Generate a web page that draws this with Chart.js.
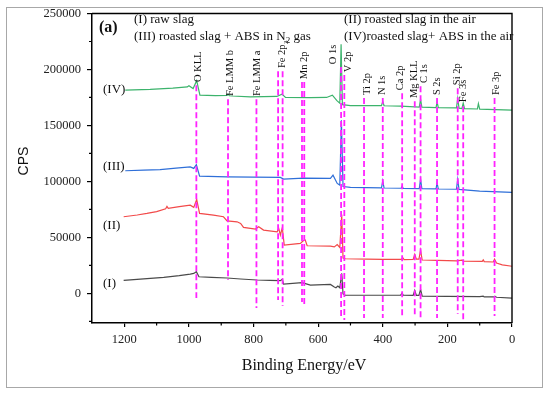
<!DOCTYPE html>
<html>
<head>
<meta charset="utf-8">
<script src="https://cdn.jsdelivr.net/npm/chart.js@4.4.0/dist/chart.umd.min.js"></script>
<style>
html, body { margin: 0; padding: 0; background: #fff; }
canvas { display: block; }
</style>
</head>
<body>
<canvas id="xps" width="550" height="395"></canvas>
<script>
// binding energy (eV) and counts
const beI = [1202, 1140, 1078, 1030, 996, 985, 977, 969, 930, 882, 840, 789, 750, 717, 711, 707, 650, 642, 624, 562, 550, 545, 539, 533, 527, 523, 516, 450, 345, 340, 337, 306, 301, 296, 288, 283, 278, 200, 100, 89, 86, 56, 53, 48, 0];
const cpsI = [11600, 12900, 14300, 15800, 17200, 17800, 19300, 14800, 14300, 13700, 12800, 11900, 11600, 11300, 12500, 8300, 9500, 8900, 7400, 8000, 5600, 5000, 6500, 5000, 17800, -500, -1700, -1700, -1700, 400, -1700, -1800, 2600, -1800, -1800, 3500, -2600, -2800, -3000, -2600, -3200, -3200, -2600, -3500, -4200];

const beII = [1202, 1160, 1130, 1100, 1072, 1068, 1064, 1030, 996, 985, 976, 967, 924, 893, 882, 851, 840, 831, 794, 784, 769, 727, 722, 717, 711, 705, 655, 647, 640, 634, 562, 550, 541, 533, 527, 523, 516, 450, 400, 342, 338, 334, 306, 301, 296, 288, 283, 278, 230, 170, 155, 150, 92, 89, 86, 58, 54, 48, 30, 0];
const cpsII = [68400, 70000, 71400, 73000, 75600, 77600, 75900, 77500, 78800, 76800, 83900, 71400, 69900, 68400, 64800, 63900, 62500, 58900, 57400, 59500, 56500, 55000, 58000, 52100, 58600, 43100, 44600, 46700, 47600, 42500, 42200, 41500, 43600, 41000, 70500, 31500, 30900, 30600, 30300, 30300, 31800, 30200, 30300, 34800, 30500, 30500, 38500, 29800, 29400, 29000, 29600, 28800, 28500, 29800, 28300, 28000, 30500, 27000, 25500, 24200];

const beIII = [1197, 1140, 1089, 1040, 996, 985, 977, 967, 882, 800, 717, 707, 646, 562, 554, 541, 533, 528, 523, 500, 404, 400, 396, 343, 340, 337, 287, 283, 279, 235, 232, 228, 172, 168, 164, 100, 0];
const cpsIII = [109500, 110000, 110500, 111800, 113000, 111600, 115000, 104700, 104100, 103800, 103600, 102100, 102900, 102700, 105600, 98200, 96700, 154700, 95400, 94600, 94200, 100500, 94100, 93900, 95800, 93800, 93600, 101800, 93500, 93300, 98800, 93200, 93000, 101800, 92800, 91400, 90200];

const beIV = [1197, 1120, 1050, 1005, 1000, 987, 976, 966, 918, 882, 879, 875, 866, 810, 728, 712, 701, 624, 574, 556, 542, 533, 529, 525, 500, 404, 400, 396, 345, 287, 283, 279, 235, 232, 228, 172, 168, 164, 155, 151, 147, 107, 104, 100, 0];
const cpsIV = [181500, 182200, 183300, 184400, 185500, 182900, 190000, 177100, 176600, 176800, 178100, 176500, 176300, 175500, 175900, 178000, 175000, 174800, 175000, 177100, 172100, 169900, 222600, 168600, 167700, 167700, 171300, 167600, 167200, 166400, 173200, 166300, 166000, 171100, 165900, 165600, 174100, 165400, 165100, 169900, 165000, 164700, 169500, 164600, 163700];

// magenta reference lines: energy, top and bottom (CPS)
const markerBE = [977, 879, 791, 724, 710, 650, 643, 529, 519, 458, 400, 340, 301, 283, 232, 168, 151, 54];
const markerTop = [186000, 173500, 173500, 198500, 198500, 188700, 188700, 202100, 195000, 174400, 174400, 178800, 171600, 185100, 174400, 183300, 167200, 174400];
const markerBottom = [-4200, 11900, -13100, -6000, -11300, -7800, -12200, -21200, -23800, -22100, -22100, -20300, -20300, -22100, -22100, -18500, -23800, -20300];

// peak names, placed at energy / CPS of the label foot
const peakNames = ['O KLL', 'Fe LMM b', 'Fe LMM a', 'Fe 2p', 'Mn 2p', 'O 1s', 'V 2p', 'Ti 2p', 'N 1s', 'Ca 2p', 'Mg KLL', 'C 1s', 'S 2s', 'Si 2p', 'Fe 3s', 'Fe 3p'];
const labelBE = [971, 872, 788, 712, 643, 553, 506, 448, 402, 345, 302, 271, 231, 170, 150, 49];
const labelCps = [188700, 176200, 176200, 201200, 191300, 204700, 197600, 177100, 177100, 181500, 174400, 187800, 177100, 186000, 170800, 177100];

const xTicks = [0, 200, 400, 600, 800, 1000, 1200];
const xMinor = [100, 300, 500, 700, 900, 1100];
const yTicks = [0, 50000, 100000, 150000, 200000, 250000];
const yMinor = [-25000, 25000, 75000, 125000, 175000, 225000];

const SERIF = "'Liberation Serif', 'Times New Roman', serif";

function pts(xs, ys) {
    return xs.map((x, i) => ({ x: x, y: ys[i] }));
}

function series(xs, ys, color) {
    return {
        data: pts(xs, ys),
        showLine: true,
        borderColor: color,
        borderWidth: 1.2,
        pointRadius: 0,
        order: 1
    };
}

const datasets = [
    series(beI, cpsI, '#4a4a4a'),
    series(beII, cpsII, '#f24a4a'),
    series(beIII, cpsIII, '#2f6fd8'),
    series(beIV, cpsIV, '#3cb36c')
];
markerBE.forEach((be, i) => {
    datasets.push({
        data: [{ x: be, y: markerTop[i] }, { x: be, y: markerBottom[i] }],
        showLine: true,
        borderColor: '#ff22ff',
        borderWidth: 1.8,
        borderDash: [6, 3],
        pointRadius: 0,
        order: 0
    });
});

const decor = {
    id: 'decor',
    beforeDraw(chart) {
        const ctx = chart.ctx;
        ctx.save();
        ctx.fillStyle = '#fff';
        ctx.fillRect(0, 0, chart.width, chart.height);
        ctx.strokeStyle = '#a8a8a8';
        ctx.lineWidth = 1;
        ctx.strokeRect(6.5, 7.5, 536, 380);
        ctx.restore();
    },
    afterDraw(chart) {
        const ctx = chart.ctx;
        const a = chart.chartArea;
        const xs = chart.scales.x, ys = chart.scales.y;
        ctx.save();

        // top / right frame
        ctx.strokeStyle = '#000';
        ctx.lineWidth = 1.4;
        ctx.beginPath();
        ctx.moveTo(a.left, a.top);
        ctx.lineTo(a.right, a.top);
        ctx.lineTo(a.right, a.bottom);
        ctx.stroke();

        // minor ticks
        ctx.lineWidth = 1.2;
        ctx.beginPath();
        xMinor.forEach(v => {
            const px = xs.getPixelForValue(v);
            ctx.moveTo(px, a.bottom);
            ctx.lineTo(px, a.bottom + 2.5);
        });
        yMinor.forEach(v => {
            const py = ys.getPixelForValue(v);
            ctx.moveTo(a.left, py);
            ctx.lineTo(a.left - 3, py);
        });
        ctx.stroke();

        ctx.fillStyle = '#111';
        // peak names, vertical
        ctx.font = '10.5px ' + SERIF;
        ctx.textBaseline = 'middle';
        ctx.textAlign = 'left';
        peakNames.forEach((name, i) => {
            const px = xs.getPixelForValue(labelBE[i]);
            const py = ys.getPixelForValue(labelCps[i]);
            ctx.save();
            ctx.translate(px, py);
            ctx.rotate(-Math.PI / 2);
            ctx.fillText(name, 0, 0);
            if (name === 'Fe 2p') {
                const w = ctx.measureText(name).width;
                ctx.font = '7px ' + SERIF;
                ctx.fillText('3', w + 0.5, 4);
            }
            ctx.restore();
        });

        // legend text
        ctx.textBaseline = 'alphabetic';
        ctx.font = '13px ' + SERIF;
        ctx.fillText('(I) raw slag', 134, 23);
        ctx.fillText('(II) roasted slag in the air', 344, 23);
        ctx.fillText('(IV)roasted slag+ ABS in the air', 344, 39.5);
        let t = '(III) roasted slag + ABS in N';
        ctx.fillText(t, 134, 39.5);
        let w = ctx.measureText(t).width;
        ctx.font = '9px ' + SERIF;
        ctx.fillText('2', 134 + w, 42.5);
        const w2 = ctx.measureText('2').width;
        ctx.font = '13px ' + SERIF;
        ctx.fillText(' gas', 134 + w + w2, 39.5);

        ctx.font = 'bold 16px ' + SERIF;
        ctx.fillText('(a)', 99, 32);

        // series tags
        ctx.font = '13px ' + SERIF;
        ctx.textBaseline = 'middle';
        ctx.fillText('(IV)', 103, 90);
        ctx.fillText('(III)', 103, 167);
        ctx.fillText('(II)', 103, 226);
        ctx.fillText('(I)', 103, 284);

        // axis titles
        ctx.textAlign = 'center';
        ctx.font = '16px ' + SERIF;
        ctx.fillText('Binding Energy/eV', 304, 366);
        ctx.save();
        ctx.translate(24, 161);
        ctx.rotate(-Math.PI / 2);
        ctx.font = '14px "Liberation Sans", Arial, sans-serif';
        ctx.fillText('CPS', 0, 0);
        ctx.restore();

        ctx.restore();
    }
};

new Chart(document.getElementById('xps'), {
    type: 'scatter',
    data: { datasets: datasets },
    options: {
        responsive: false,
        animation: false,
        devicePixelRatio: 1,
        layout: { padding: { left: 0, right: 38, top: 13, bottom: 0 } },
        plugins: { legend: { display: false }, tooltip: { enabled: false } },
        scales: {
            x: {
                type: 'linear',
                reverse: true,
                min: 0,
                max: 1300,
                afterBuildTicks: s => { s.ticks = xTicks.map(v => ({ value: v })); },
                afterFit: s => { s.height = 72; },
                grid: { drawOnChartArea: false, tickLength: 4, color: '#000', lineWidth: 1.2 },
                border: { color: '#000', width: 1.5 },
                ticks: { padding: 5, color: '#222', maxRotation: 0, font: { family: SERIF, size: 12.5 },
                    callback: v => String(v) }
            },
            y: {
                type: 'linear',
                min: -26500,
                max: 250000,
                afterBuildTicks: s => { s.ticks = yTicks.map(v => ({ value: v })); },
                afterFit: s => { s.width = 92; },
                grid: { drawOnChartArea: false, tickLength: 5, color: '#000', lineWidth: 1.2 },
                border: { color: '#000', width: 1.5 },
                ticks: { padding: 6, color: '#222', font: { family: SERIF, size: 12.5 },
                    callback: v => String(v) }
            }
        }
    },
    plugins: [decor]
});
</script>
</body>
</html>
